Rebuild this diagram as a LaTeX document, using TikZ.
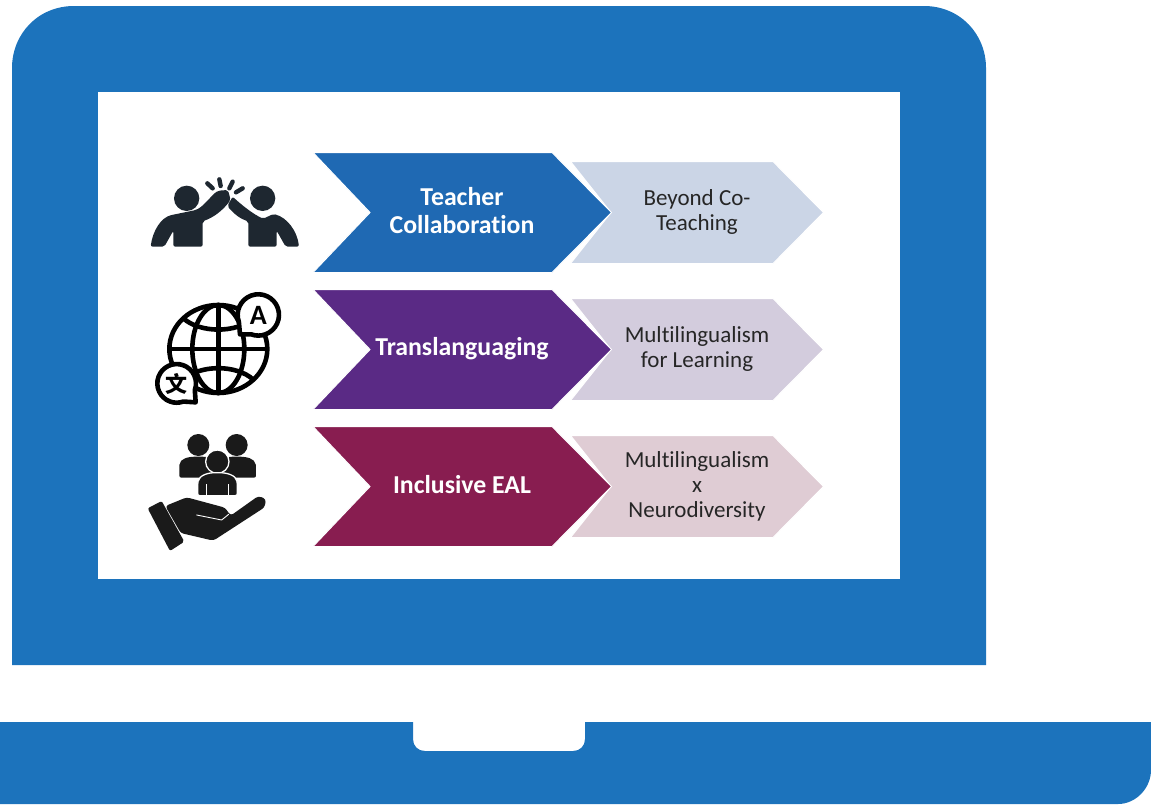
\documentclass[tikz,border=0pt]{standalone}
\usepackage{fontspec}
\setmainfont{Carlito}[Ligatures=NoCommon]
\newfontfamily\cjkicon{Noto Sans CJK SC}
\definecolor{laptop}{HTML}{1C73BC}
\definecolor{cblue}{HTML}{1F69B3}
\definecolor{cpurple}{HTML}{5A2A85}
\definecolor{cmaroon}{HTML}{881D50}
\definecolor{lblue}{HTML}{CBD5E6}
\definecolor{lpurple}{HTML}{D3CCDD}
\definecolor{lmaroon}{HTML}{DFCCD4}
\definecolor{icondark}{HTML}{1E2730}
\definecolor{iconblack}{HTML}{1A1A1A}
\tikzset{
  x=1pt,y=-1pt,
  subchev/.style={draw=white,line width=1pt},
  mainchev/.style={draw=white,line width=1pt},
  maintext/.style={text=white,font=\bfseries\fontsize{25.8}{28}\selectfont,align=center,inner sep=0pt},
  subtext/.style={text=black!85,font=\fontsize{23}{25}\selectfont,align=center,inner sep=0pt},
  globeline/.style={draw=black,line width=4.6pt,fill=none},
}
\begin{document}
\begin{tikzpicture}
\useasboundingbox (0,0) rectangle (1151,804);
% laptop
\fill[laptop] (12,665) -- (12,68) .. controls (12,34) and (38,6) .. (74,6) -- (924,6) .. controls (960,6) and (986,34) .. (986,68) -- (986,665) -- cycle;
\fill[white] (98,92) rectangle (900,579);
\fill[laptop] (0,722) -- (413,722) -- (413,739) .. controls (413,746) and (418,751) .. (425,751) -- (573,751) .. controls (580,751) and (585,746) .. (585,739) -- (585,722) -- (1151,722) -- (1151,770) .. controls (1151,788) and (1136,804) .. (1118,804) -- (0,804) -- cycle;
% rows
\foreach \dy/\dk/\lt in {0/cblue/lblue,137/cpurple/lpurple,274/cmaroon/lmaroon}{
  \begin{scope}[yshift=-\dy pt]
    \fill[\lt,subchev] (570.5,161.5) -- (773,161.5) -- (823.5,212.5) -- (773,263.5) -- (570.5,263.5) -- (611,212.5) -- cycle;
    \fill[\dk,mainchev] (313,152.5) -- (552,152.5) -- (611.5,212.5) -- (552,272.5) -- (313,272.5) -- (370,212.5) -- cycle;
  \end{scope}
}
\node[maintext] (m1) at (462,210.5) {Teacher\\Collaboration};
\node[maintext] (m2) at (462,349) {Translanguaging};
\node[maintext] (m3) at (462,484.5) {Inclusive EAL};
\node[subtext] (s1) at (697,212) {Beyond Co-\\Teaching};
\node[subtext] (s2) at (697,349) {Multilingualism\\for Learning};
\node[subtext] (s3) at (697,486) {Multilingualism\\x\\Neurodiversity};
% high five icon
\begin{scope}[shift={(130,160)},x=0.3333pt,y=-0.3333pt]
  \fill[icondark] (170,115) circle[radius=38];
  \fill[icondark] (398,115) circle[radius=38];
  \fill[icondark,rounded corners=2pt] (62,260) .. controls (68,215) and (92,172) .. (130,164) -- (198,150) .. controls (225,135) and (245,105) .. (265,92) -- (294,90) -- (302,120) .. controls (275,155) and (250,172) .. (218,184) -- (218,260) -- (130,260) -- (130,212) -- (103,260) -- cycle;
  \fill[icondark,rounded corners=2pt] (507,260) .. controls (502,215) and (472,172) .. (430,162) -- (400,176) .. controls (370,163) and (335,135) .. (308,110) -- (292,138) .. controls (312,162) and (332,177) .. (355,184) -- (355,260) -- (440,260) -- (440,212) -- (467,260) -- cycle;
  \draw[icondark,line width=4.4pt,line cap=round] (232,70) -- (248,85) (268,58) -- (272,78) (308,65) -- (298,85) (338,85) -- (318,97);
\end{scope}
% globe icon
\begin{scope}[shift={(130,285)},x=0.3333pt,y=-0.3333pt]
  \draw[globeline] (265,192) ellipse[x radius=147,y radius=132];
  \draw[globeline] (265,192) ellipse[x radius=78,y radius=132];
  \draw[globeline] (265,60) -- (265,324) (118,192) -- (412,192);
  \draw[globeline] (160,100) .. controls (210,145) and (320,145) .. (370,100);
  \draw[globeline] (160,284) .. controls (210,238) and (320,238) .. (370,284);
  \draw[globeline,fill=white,line join=round] (326.7,111) arc[start angle=160,end angle=470,radius=62] -- (330,148) -- cycle;
  \draw[globeline,fill=white,line join=round] (194.5,315) arc[start angle=20,end angle=-290,radius=58] -- (197,352) -- cycle;
  \node[inner sep=0pt,font=\bfseries\fontsize{28}{28}\selectfont] (iconA) at (385,92) {A};
  \node[inner sep=0pt,font=\cjkicon\bfseries\fontsize{22}{22}\selectfont] (iconZh) at (140,297) {文};
\end{scope}
% hand and people icon
\begin{scope}[shift={(130,425)},x=0.3333pt,y=-0.3333pt]
  \fill[iconblack] (205,60) circle[radius=33];
  \fill[iconblack] (320,60) circle[radius=33];
  \fill[iconblack,rounded corners=2pt] (148,158) -- (148,125) .. controls (150,100) and (175,95) .. (205,95) .. controls (235,95) and (260,100) .. (262,125) -- (262,158) -- cycle;
  \fill[iconblack,rounded corners=2pt] (265,158) -- (265,125) .. controls (270,100) and (290,95) .. (320,95) .. controls (350,95) and (375,100) .. (378,125) -- (378,158) -- cycle;
  \fill[iconblack,draw=white,line width=1.3pt] (262,110) circle[radius=35];
  \fill[iconblack,draw=white,line width=1.3pt,rounded corners=2pt] (203,212) -- (203,175) .. controls (208,150) and (235,143) .. (262,143) .. controls (290,143) and (318,150) .. (322,175) -- (322,212) -- cycle;
  \draw[white,line width=0.8pt] (230,178) -- (230,212) (296,178) -- (296,212);
  \fill[iconblack,rounded corners=2pt] (53,250) -- (95,228) -- (163,350) -- (120,378) -- cycle;
  \fill[iconblack,rounded corners=3pt] (106,243) -- (170,217) -- (285,248) -- (302,272) -- (385,213) -- (408,222) -- (404,247) -- (250,347) -- (152,324) -- cycle;
  \draw[white,line width=0.9pt,line cap=round] (200,270) -- (275,285) -- (296,268);
\end{scope}
\end{tikzpicture}
\end{document}
